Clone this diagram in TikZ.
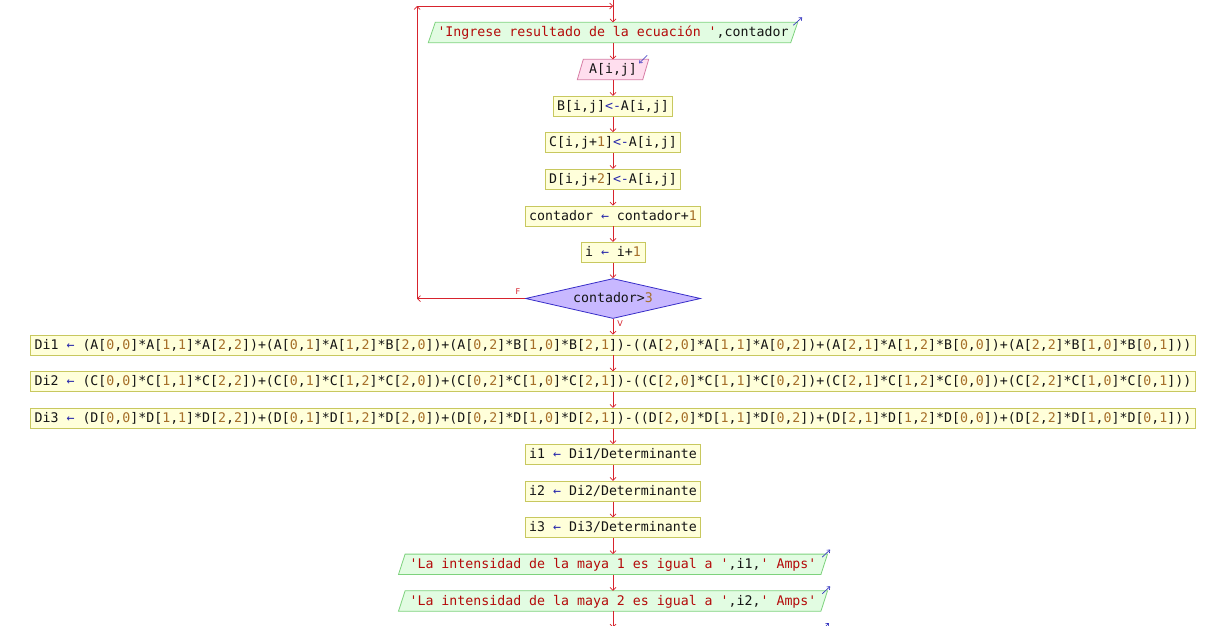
\documentclass[tikz,border=0pt]{standalone}
\usepackage{fontspec}
\setmonofont{DejaVu Sans Mono}
\newfontfamily\lblfont{DejaVu Sans}
\usetikzlibrary{arrows.meta,shapes.geometric,calc,backgrounds}
\definecolor{numc}{RGB}{165,110,40}
\definecolor{strc}{RGB}{180,10,10}
\definecolor{opc}{RGB}{40,40,170}
\definecolor{txtc}{RGB}{20,20,20}
\definecolor{linec}{RGB}{215,35,45}
\definecolor{procfill}{RGB}{255,255,218}
\definecolor{procdraw}{RGB}{200,200,95}
\definecolor{outfill}{RGB}{226,252,226}
\definecolor{outdraw}{RGB}{125,210,125}
\definecolor{infill}{RGB}{255,222,238}
\definecolor{indraw}{RGB}{215,125,165}
\definecolor{condfill}{RGB}{200,184,255}
\definecolor{conddraw}{RGB}{55,45,200}
\definecolor{ioarrc}{RGB}{45,45,190}
\newcommand\NUM[1]{\textcolor{numc}{#1}}
\newcommand\STR[1]{\textcolor{strc}{#1}}
\newcommand\OPR[1]{\textcolor{opc}{#1}}
\newcommand\MX[3]{#1[\NUM{#2},\NUM{#3}]}
\newcommand\paral[3]{\begin{pgfonlayer}{background}\draw[#3] ([xshift=#2pt]#1.north west) -- ([xshift=#2pt]#1.north east) -- ([xshift=-#2pt]#1.south east) -- ([xshift=-#2pt]#1.south west) -- cycle;\end{pgfonlayer}}
\tikzset{
 base/.style={font=\ttfamily\fontsize{13.25}{15}\selectfont, text=txtc, inner xsep=4pt, inner ysep=0pt, minimum height=20pt, text height=10pt, text depth=2pt},
 proc/.style={base, rectangle, draw=procdraw, fill=procfill, line width=0.8pt},
 iobox/.style={base, rectangle, inner xsep=0pt},
 cond/.style={base, diamond, aspect=4.4, draw=conddraw, fill=condfill, minimum width=175pt, minimum height=40pt, inner sep=0pt, line width=0.8pt},
 conn/.style={draw=linec, line width=0.7pt, -{Straight Barb[length=3pt,width=6pt]}},
 ioarr/.style={draw=ioarrc, line width=0.6pt, -{Straight Barb[length=2.5pt,width=4pt]}},
 lbl/.style={font=\lblfont\fontsize{8}{9}\selectfont, text=linec, inner sep=0pt},
}
\begin{document}
\begin{tikzpicture}[x=1pt,y=-1pt]
\begin{pgfonlayer}{background}
\fill[white] (0,0) rectangle (1222,625);
\end{pgfonlayer}
\useasboundingbox (0,0) rectangle (1222,625);
\clip (0,0) rectangle (1222,625);

\node[iobox, minimum width=362pt] (out1) at (613,32.5) {\STR{'Ingrese resultado de la ecuación '},contador};
\paral{out1}{3.5}{draw=outdraw, fill=outfill, line width=0.8pt}
\node[iobox, minimum width=65pt] (in1) at (613,69.5) {A[i,j]};
\paral{in1}{3}{draw=indraw, fill=infill, line width=0.8pt}
\node[proc] (b) at (613,106.3) {B[i,j]\OPR{<-}A[i,j]};
\node[proc] (c) at (613,142.5) {C[i,j+\NUM{1}]\OPR{<-}A[i,j]};
\node[proc] (d) at (613,179.3) {D[i,j+\NUM{2}]\OPR{<-}A[i,j]};
\node[proc] (cnt) at (613,216) {contador \OPR{←} contador+\NUM{1}};
\node[proc] (inc) at (613,252.3) {i \OPR{←} i+\NUM{1}};
\node[cond] (cond) at (613,298.5) {contador>\NUM{3}};
\node[proc] (di1) at (613,345) {Di1 \OPR{←} (\MX A00*\MX A11*\MX A22)+(\MX A01*\MX A12*\MX B20)+(\MX A02*\MX B10*\MX B21)-((\MX A20*\MX A11*\MX A02)+(\MX A21*\MX A12*\MX B00)+(\MX A22*\MX B10*\MX B01))};
\node[proc] (di2) at (613,381.7) {Di2 \OPR{←} (\MX C00*\MX C11*\MX C22)+(\MX C01*\MX C12*\MX C20)+(\MX C02*\MX C10*\MX C21)-((\MX C20*\MX C11*\MX C02)+(\MX C21*\MX C12*\MX C00)+(\MX C22*\MX C10*\MX C01))};
\node[proc] (di3) at (613,418.3) {Di3 \OPR{←} (\MX D00*\MX D11*\MX D22)+(\MX D01*\MX D12*\MX D20)+(\MX D02*\MX D10*\MX D21)-((\MX D20*\MX D11*\MX D02)+(\MX D21*\MX D12*\MX D00)+(\MX D22*\MX D10*\MX D01))};
\node[proc] (i1) at (613,454.5) {i1 \OPR{←} Di1/Determinante};
\node[proc] (i2) at (613,491.3) {i2 \OPR{←} Di2/Determinante};
\node[proc] (i3) at (613,527.7) {i3 \OPR{←} Di3/Determinante};
\node[iobox, minimum width=422pt] (out2) at (613,564.3) {\STR{'La intensidad de la maya 1 es igual a '},i1,\STR{' Amps'}};
\paral{out2}{3.3}{draw=outdraw, fill=outfill, line width=0.8pt}
\node[iobox, minimum width=422pt] (out3) at (613,601) {\STR{'La intensidad de la maya 2 es igual a '},i2,\STR{' Amps'}};
\paral{out3}{3.3}{draw=outdraw, fill=outfill, line width=0.8pt}

% io markers
\draw[ioarr] ($(out1.north east)+(-1,3)$) -- ($(out1.north east)+(8,-5)$);
\draw[ioarr] ($(in1.north east)+(1.5,-4)$) -- ($(in1.north east)+(-6.5,4)$);
\draw[ioarr] ($(out2.north east)+(-2,3)$) -- ($(out2.north east)+(6,-4.5)$);
\draw[ioarr] ($(out3.north east)+(-2,3)$) -- ($(out3.north east)+(6,-4.5)$);

% connectors
\coordinate (top) at (613,0);
\draw[conn] (top) -- (out1.north);
\draw[conn] (out1.south) -- (in1.north);
\draw[conn] (in1.south) -- (b.north);
\draw[conn] (b.south) -- (c.north);
\draw[conn] (c.south) -- (d.north);
\draw[conn] (d.south) -- (cnt.north);
\draw[conn] (cnt.south) -- (inc.north);
\draw[conn] (inc.south) -- (cond.north);
\draw[conn] (cond.south) -- (di1.north);
\draw[conn] (di1.south) -- (di2.north);
\draw[conn] (di2.south) -- (di3.north);
\draw[conn] (di3.south) -- (i1.north);
\draw[conn] (i1.south) -- (i2.north);
\draw[conn] (i2.south) -- (i3.north);
\draw[conn] (i3.south) -- (out2.north);
\draw[conn] (out2.south) -- (out3.north);
\coordinate (nxt) at (613,627.7);
\draw[conn] (out3.south) -- (nxt);
\coordinate (nxa) at (821,631);
\coordinate (nxb) at (829,623);
\draw[ioarr] (nxa) -- (nxb);

% loop back
\coordinate (lb) at (417,298.5);
\coordinate (lt) at (417,6);
\coordinate (tp) at (613,6);
\draw[conn] (cond.west) -- (lb);
\draw[conn] (lb) -- (lt);
\draw[conn] (lt) -- (tp);

\node[lbl] (flab) at (518,292) {F};
\node[lbl] (vlab) at (620,323.5) {V};
\end{tikzpicture}
\end{document}
